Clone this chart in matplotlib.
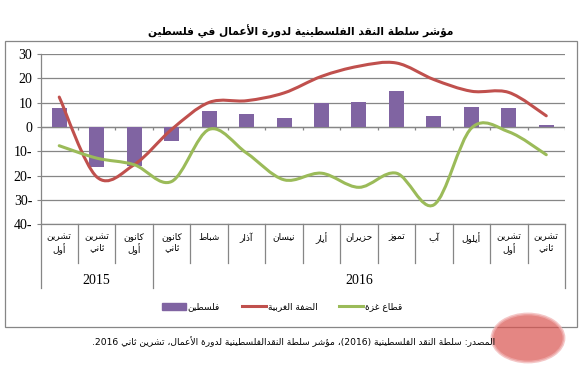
import re
import matplotlib
matplotlib.use('Agg')
import matplotlib.pyplot as plt
import numpy as np
from matplotlib.path import Path
from matplotlib.patches import PathPatch, Rectangle, Circle, Patch
from matplotlib.lines import Line2D

# months, Oct 2015 .. Nov 2016
months = ['تشرين\nأول', 'تشرين\nثاني', 'كانون\nأول', 'كانون\nثاني', 'شباط', 'آذار',
          'نيسان', 'أيار', 'حزيران', 'تموز', 'آب', 'أيلول', 'تشرين\nأول', 'تشرين\nثاني']
years = ['2015', '2016']
year_span = [(0, 2), (3, 13)]

palestine = [7.8, -16.6, -15.9, -5.9, 6.7, 5.5, 3.8, 10.0, 10.4, 14.9, 4.6, 8.4, 7.9, 0.9]
west_bank = [12.3, -20.5, -15.5, -1.0, 10.1, 10.8, 14.0, 20.8, 25.0, 26.3, 19.5, 14.7, 14.2, 4.6]
gaza = [-7.7, -12.8, -15.5, -22.4, -1.0, -10.7, -21.7, -19.0, -24.8, -19.0, -32.0, -0.5, -2.0, -11.4]

series_names = ['فلسطين', 'الضفة الغربية', 'قطاع غزة']
title = 'مؤشر سلطة النقد الفلسطينية لدورة الأعمال في فلسطين'
source = 'المصدر: سلطة النقد الفلسطينية (2016)، مؤشر سلطة النقدالفلسطينية لدورة الأعمال، تشرين ثاني 2016.'

# --- tiny arabic shaping + rtl ordering (matplotlib does neither) ---
FORMS = {'ء': (0xFE80, 1), 'آ': (0xFE81, 2), 'أ': (0xFE83, 2), 'ؤ': (0xFE85, 2), 'إ': (0xFE87, 2),
         'ئ': (0xFE89, 4), 'ا': (0xFE8D, 2), 'ب': (0xFE8F, 4), 'ة': (0xFE93, 2), 'ت': (0xFE95, 4),
         'ث': (0xFE99, 4), 'ج': (0xFE9D, 4), 'ح': (0xFEA1, 4), 'خ': (0xFEA5, 4), 'د': (0xFEA9, 2),
         'ذ': (0xFEAB, 2), 'ر': (0xFEAD, 2), 'ز': (0xFEAF, 2), 'س': (0xFEB1, 4), 'ش': (0xFEB5, 4),
         'ص': (0xFEB9, 4), 'ض': (0xFEBD, 4), 'ط': (0xFEC1, 4), 'ظ': (0xFEC5, 4), 'ع': (0xFEC9, 4),
         'غ': (0xFECD, 4), 'ف': (0xFED1, 4), 'ق': (0xFED5, 4), 'ك': (0xFED9, 4), 'ل': (0xFEDD, 4),
         'م': (0xFEE1, 4), 'ن': (0xFEE5, 4), 'ه': (0xFEE9, 4), 'و': (0xFEED, 2), 'ى': (0xFEEF, 2),
         'ي': (0xFEF1, 4)}
LAM_ALEF = {'آ': 0xFEF5, 'أ': 0xFEF7, 'إ': 0xFEF9, 'ا': 0xFEFB}
MIRROR = {'(': ')', ')': '('}


def shape(s):
    items = []
    i = 0
    while i < len(s):
        c = s[i]
        if c == 'ل' and i + 1 < len(s) and s[i + 1] in LAM_ALEF:
            items.append((LAM_ALEF[s[i + 1]], 2))
            i += 2
            continue
        items.append(FORMS.get(c, c))
        i += 1
    out = []
    for k, it in enumerate(items):
        if isinstance(it, str):
            out.append(it)
            continue
        base, n = it
        prev = items[k - 1] if k > 0 else None
        nxt = items[k + 1] if k + 1 < len(items) else None
        jp = isinstance(prev, tuple) and prev[1] == 4 and n >= 2
        jn = n == 4 and isinstance(nxt, tuple) and nxt[1] >= 2
        out.append(chr(base + (1 if jp else 0) + (2 if jn else 0)))
    return ''.join(out)


def ar(s):
    lines = []
    for line in s.split('\n'):
        runs = re.findall(r'[0-9A-Za-z]+|[^0-9A-Za-z]+', shape(line))
        vis = []
        for r in runs[::-1]:
            if r[0].isalnum() and r[0].isascii():
                vis.append(r)
            else:
                vis.append(''.join(MIRROR.get(c, c) for c in r[::-1]))
        lines.append(''.join(vis))
    return '\n'.join(lines)


W, H = 580, 387
fig = plt.figure(figsize=(5.8, 3.87), dpi=100)
ax = fig.add_axes([40.5 / W, 1 - 224.3 / H, (565 - 40.5) / W, (224.3 - 54) / H])

purple, red, green, grey = '#8064A2', '#C0504D', '#9BBB59', '#868686'
x = np.arange(len(months))

ax.bar(x, palestine, width=0.4, color=purple, zorder=2)


def smooth_path(xs, ys):
    # excel style smoothed line: bezier through the points
    pts = np.column_stack([xs, ys]).astype(float)
    verts = [pts[0]]
    codes = [Path.MOVETO]
    n = len(pts)
    for i in range(n - 1):
        p0 = pts[max(i - 1, 0)]
        p1 = pts[i]
        p2 = pts[i + 1]
        p3 = pts[min(i + 2, n - 1)]
        verts += [p1 + (p2 - p0) / 6, p2 - (p3 - p1) / 6, p2]
        codes += [Path.CURVE4] * 3
    return Path(verts, codes)


for vals, col in [(west_bank, red), (gaza, green)]:
    ax.add_patch(PathPatch(smooth_path(x, vals), fill=False, edgecolor=col, lw=2.2,
                           capstyle='round', zorder=3))

ax.set_xlim(-0.5, len(months) - 0.5)
ax.set_ylim(-40, 30)
ax.set_yticks(range(-40, 31, 10))
ax.set_yticklabels([f'{abs(v)}-' if v < 0 else str(v) for v in range(-40, 31, 10)],
                   family='Liberation Serif', fontsize=10)
ax.tick_params(axis='y', length=3, color=grey, width=0.8, pad=3)
ax.set_xticks([])
ax.yaxis.grid(True, color=grey, lw=0.9)
ax.set_axisbelow(True)
for side in ['top', 'right']:
    ax.spines[side].set_visible(False)
for side in ['left', 'bottom']:
    ax.spines[side].set_color(grey)
    ax.spines[side].set_linewidth(0.9)

# zero axis with tick marks between categories
ax.axhline(0, color=grey, lw=0.9, zorder=1)
bounds = np.arange(-0.5, len(months), 1.0)
ax.vlines(bounds, -1.3, 0, color=grey, lw=0.9, zorder=1)

# multi level category labels under the plot
xt = ax.get_xaxis_transform()
ah = 224.3 - 54
group_edges = [-0.5] + [e + 0.5 for _, e in year_span]
for b in bounds:
    depth = 63.7 if b in group_edges else 38.7
    ax.plot([b, b], [0, -depth / ah], transform=xt, color=grey, lw=0.9, clip_on=False)
for i, lab in enumerate(months):
    ax.text(i, -8 / ah, ar(lab), transform=xt, ha='center', va='top', fontsize=6.5,
            family='DejaVu Sans', linespacing=1.25)
for yr, (a, b) in zip(years, year_span):
    ax.text((a + b) / 2, -(280 - 224.3) / ah, yr, transform=xt, ha='center', va='center',
            fontsize=10, family='Liberation Serif')

# outer frame
fig.add_artist(Rectangle((5 / W, 1 - 327 / H), 572 / W, 286 / H, transform=fig.transFigure,
                         fill=False, edgecolor=grey, lw=0.9))

fig.text(301 / W, 1 - 31 / H, ar(title), ha='center', va='center', fontsize=7.7,
         fontweight='bold', family='DejaVu Sans')
fig.text(495 / W, 1 - 342 / H, ar(source), ha='right', va='center', fontsize=6.6,
         family='DejaVu Sans')

handles = [Patch(color=purple), Line2D([], [], color=red, lw=2.2), Line2D([], [], color=green, lw=2.2)]
fig.legend(handles, [ar(n) for n in series_names], ncol=3, loc='center',
           bbox_to_anchor=(282 / W, 1 - 307 / H), frameon=False, fontsize=6.5,
           handlelength=2.7, handleheight=0.8, handletextpad=0.2, columnspacing=2.4,
           borderpad=0)

# site watermark
fig.add_artist(Circle((528 / W, 1 - 338 / H), 36 / W, transform=fig.transFigure,
                      facecolor='#d9534f', edgecolor='#f0b0b0', lw=2, alpha=0.7))

fig.savefig('out.png', dpi=100)
